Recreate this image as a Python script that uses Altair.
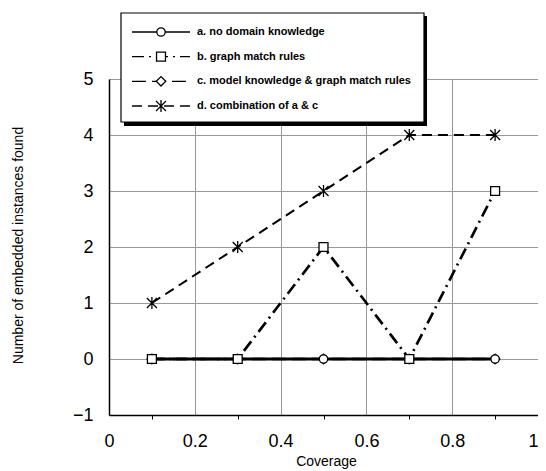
import altair as alt
import pandas as pd

# ---- data ----
X_VALUES = [0.1, 0.3, 0.5, 0.7, 0.9]
SERIES = [
    "a. no domain knowledge",
    "b. graph match rules",
    "c. model knowledge & graph match rules",
    "d. combination of a & c",
]
A_VALUES = [0, 0, 0, 0, 0]
B_VALUES = [0, 0, 2, 0, 3]
C_VALUES = [0, 0, 0, 0, 0]
D_VALUES = [1, 2, 3, 4, 4]
X_TICKS = [0, 0.05, 0.1, 0.15, 0.2, 0.25, 0.3, 0.35, 0.4, 0.45, 0.5,
           0.55, 0.6, 0.65, 0.7, 0.75, 0.8, 0.85, 0.9, 0.95, 1.0]
Y_TICKS = [-1, 0, 1, 2, 3, 4, 5]
X_TITLE = "Coverage"
Y_TITLE = "Number of embedded instances found"

values_by_series = dict(zip(SERIES, [A_VALUES, B_VALUES, C_VALUES, D_VALUES]))
draw_order = [SERIES[2], SERIES[0], SERIES[1], SERIES[3]]
rows = []
for s in draw_order:
    for xv, yv in zip(X_VALUES, values_by_series[s]):
        rows.append({"series": s, "x": xv, "y": yv})
df = pd.DataFrame(rows)
legend_df = pd.DataFrame({"series": SERIES, "row": list(range(len(SERIES)))})

FONT = "Liberation Sans"
ASTERISK = "M-1,-1L1,1M1,-1L-1,1M0,-1.2L0,1.2"

shape_scale = alt.Scale(domain=SERIES, range=["circle", "square", "diamond", ASTERISK])
dash_scale = alt.Scale(domain=SERIES, range=[[1, 0], [12, 5, 2, 5], [14, 6], [10, 6]])
width_scale = alt.Scale(domain=SERIES, range=[3, 2, 2, 2.5])
size_scale = alt.Scale(domain=SERIES, range=[70, 100, 60, 90])

x_scale = alt.Scale(domain=[0, 1], nice=False, zero=False)
y_scale = alt.Scale(domain=[-1, 5], nice=False, zero=False)

is_major = "abs(datum.value*5 - round(datum.value*5)) < 0.001"

PLOT_W = 429
PLOT_H = 336

x_axis = alt.Axis(
    values=X_TICKS,
    title=X_TITLE,
    labelExpr=f"{is_major} ? format(datum.value, '~g') : ''",
    labelOverlap=False,
    labelFlush=False,
    labelAlign={"condition": {"test": "datum.value > 0.99", "value": "right"}, "value": "center"},
    labelFont=FONT,
    labelFontSize=18,
    labelColor="black",
    labelPadding=13,
    tickSize=4,
    tickColor="black",
    tickWidth=1,
    tickOpacity={"condition": {"test": is_major, "value": 0}, "value": 1},
    grid=True,
    gridColor="#999999",
    gridWidth=1,
    gridOpacity={"condition": {"test": f"{is_major} && datum.value > 0.01 && datum.value < 0.99", "value": 1}, "value": 0},
    domainColor="black",
    domainWidth=1.5,
    titleFont=FONT,
    titleFontSize=14,
    titleFontWeight="normal",
    titleColor="black",
    titleX=217,
    titleY=46,
    titleBaseline="middle",
    titleAlign="center",
)

y_axis = alt.Axis(
    values=Y_TICKS,
    title=Y_TITLE,
    format="d",
    labelFont=FONT,
    labelFontSize=18,
    labelColor="black",
    labelPadding=16,
    ticks=False,
    tickSize=0,
    grid=True,
    gridColor="#999999",
    gridWidth=1,
    domainColor="black",
    domainWidth=1.5,
    titleFont=FONT,
    titleFontSize=14,
    titleFontWeight="normal",
    titleColor="black",
    titleAngle=270,
    titleX=-91,
    titleY=166,
    titleAlign="center",
    titleBaseline="middle",
)

lines = alt.Chart(df).mark_line(color="black").encode(
    x=alt.X("x:Q", scale=x_scale, axis=x_axis),
    y=alt.Y("y:Q", scale=y_scale, axis=y_axis),
    detail="series:N",
    strokeDash=alt.StrokeDash("series:N", scale=dash_scale, legend=None),
    strokeWidth=alt.StrokeWidth("series:N", scale=width_scale, legend=None),
)

points = alt.Chart(df).mark_point(
    filled=False, fill="white", color="black", strokeWidth=1.3, opacity=1
).encode(
    x=alt.X("x:Q", scale=x_scale),
    y=alt.Y("y:Q", scale=y_scale, axis=None),
    shape=alt.Shape("series:N", scale=shape_scale, legend=None),
    size=alt.Size("series:N", scale=size_scale, legend=None),
)

# ---- legend (drawn by hand, like the original boxed legend) ----
leg_y = alt.Y("row:O", scale=alt.Scale(type="point", domain=[0, 1, 2, 3], range=[-47, 27], padding=0), axis=None)

shadow = alt.Chart(alt.Data(values=[{}])).mark_rect(fill="black").encode(
    x=alt.value(15), x2=alt.value(318), y=alt.value(-63), y2=alt.value(47)
)
box = alt.Chart(alt.Data(values=[{}])).mark_rect(fill="white", stroke="black", strokeWidth=1.2).encode(
    x=alt.value(12), x2=alt.value(315), y=alt.value(-66), y2=alt.value(43)
)
leg_lines = alt.Chart(legend_df).mark_rule(color="black", strokeWidth=1.3).encode(
    x=alt.value(23), x2=alt.value(81), y=leg_y,
    strokeDash=alt.StrokeDash("series:N", scale=dash_scale, legend=None),
)
leg_points = alt.Chart(legend_df).mark_point(
    filled=False, fill="white", color="black", strokeWidth=1.3, opacity=1
).encode(
    x=alt.value(52), y=leg_y,
    shape=alt.Shape("series:N", scale=shape_scale, legend=None),
    size=alt.Size("series:N", scale=size_scale, legend=None),
)
leg_text = alt.Chart(legend_df).mark_text(
    align="left", baseline="middle", font=FONT, fontSize=11, fontWeight="bold", color="black"
).encode(
    x=alt.value(88), y=leg_y, text="series:N"
)

chart = alt.layer(
    lines, points, shadow, box, leg_lines, leg_points, leg_text
).resolve_scale(
    y="independent"
).properties(
    width=PLOT_W,
    height=PLOT_H,
    autosize=alt.AutoSizeParams(type="none"),
    padding={"left": 101, "top": 71, "right": 0, "bottom": 56},
    background="white",
).configure_view(stroke=None)

chart.save("out.html", embed_options={"renderer": "svg", "actions": False})
